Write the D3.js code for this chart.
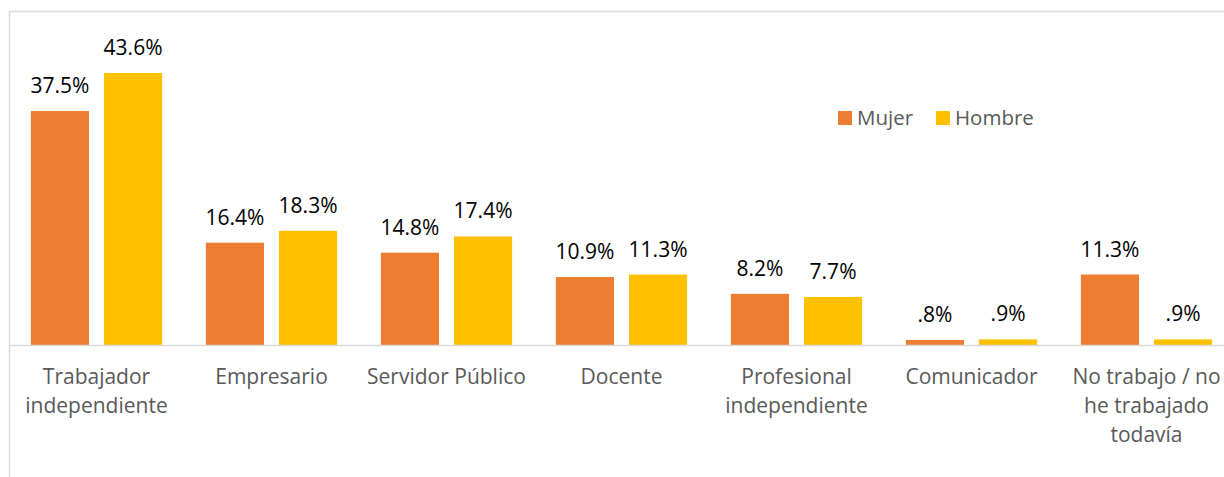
<!DOCTYPE html>
<html lang="es">
<head>
  <meta charset="UTF-8" />
  <title>Ocupación por sexo</title>
  <script src="https://d3js.org/d3.v7.min.js"></script>
  <style>
    body { margin: 0; background: #fff; }
    svg { display: block; }
    .val { font-family: 'Open Sans', sans-serif; font-size: 21px; fill: #000; }
    .cat { font-family: 'Open Sans', sans-serif; font-size: 21px; fill: #595959; }
    .leg { font-family: 'Open Sans', sans-serif; font-size: 20.5px; fill: #595959; }
  </style>
</head>
<body>
  <div id="chart"></div>
  <script>
    const categories = [
      ["Trabajador", "independiente"],
      ["Empresario"],
      ["Servidor Público"],
      ["Docente"],
      ["Profesional", "independiente"],
      ["Comunicador"],
      ["No trabajo / no", "he trabajado", "todavía"]
    ];
    const mujer = [37.5, 16.4, 14.8, 10.9, 8.2, 0.8, 11.3];
    const hombre = [43.6, 18.3, 17.4, 11.3, 7.7, 0.9, 0.9];
    const seriesNames = ["Mujer", "Hombre"];
    const colors = ["#ed7d31", "#ffc000"];

    const W = 1224, H = 477;
    const plot = { left: 9, right: 1234, baseline: 345 };

    const svg = d3.select("#chart").append("svg")
      .attr("width", W).attr("height", H);

    // chart frame (cut off on the right and bottom)
    svg.append("rect")
      .attr("x", 9.5).attr("y", 11.5)
      .attr("width", 1300).attr("height", 600)
      .attr("fill", "none").attr("stroke", "#d9d9d9").attr("stroke-width", 1.5);

    const x0 = d3.scaleBand()
      .domain(d3.range(categories.length))
      .range([plot.left, plot.right])
      .paddingInner(0.25).paddingOuter(0.125);

    const x1 = d3.scaleBand()
      .domain(seriesNames)
      .range([0, x0.bandwidth()])
      .paddingInner(0.205);

    const y = d3.scaleLinear().domain([0, 43.6]).range([plot.baseline, 73]);

    const rows = categories.map((c, i) => ({
      i, values: [
        { key: "Mujer", v: mujer[i], color: colors[0] },
        { key: "Hombre", v: hombre[i], color: colors[1] }
      ]
    }));

    const groups = svg.selectAll("g.grp").data(rows).join("g")
      .attr("class", "grp")
      .attr("transform", d => `translate(${x0(d.i)},0)`);

    groups.selectAll("rect").data(d => d.values).join("rect")
      .attr("x", d => x1(d.key))
      .attr("y", d => y(d.v))
      .attr("width", x1.bandwidth())
      .attr("height", d => y(0) - y(d.v))
      .attr("fill", d => d.color);

    const fmt = v => (v < 1 ? d3.format(".1f")(v).replace(/^0/, "") : d3.format(".1f")(v)) + "%";

    groups.selectAll("text.val").data(d => d.values).join("text")
      .attr("class", "val")
      .attr("x", d => x1(d.key) + x1.bandwidth() / 2)
      .attr("y", d => y(d.v) - 18)
      .attr("text-anchor", "middle")
      .text(d => fmt(d.v));

    // baseline axis
    svg.append("line")
      .attr("x1", plot.left).attr("x2", W)
      .attr("y1", plot.baseline + 0.5).attr("y2", plot.baseline + 0.5)
      .attr("stroke", "#d9d9d9").attr("stroke-width", 1.5);

    // category labels
    const catText = svg.selectAll("text.cat").data(categories).join("text")
      .attr("class", "cat")
      .attr("text-anchor", "middle")
      .attr("x", (d, i) => x0(i) + x0.bandwidth() / 2)
      .attr("y", 384);
    catText.selectAll("tspan").data(d => d).join("tspan")
      .attr("x", function () { return this.parentNode.getAttribute("x"); })
      .attr("dy", (d, i) => i === 0 ? 0 : 29)
      .text(d => d);

    // legend
    const leg = svg.append("g").attr("transform", "translate(838,111)");
    const items = leg.selectAll("g").data(seriesNames).join("g")
      .attr("transform", (d, i) => `translate(${i * 98},0)`);
    items.append("rect").attr("width", 14).attr("height", 14)
      .attr("fill", (d, i) => colors[i]);
    items.append("text").attr("class", "leg")
      .attr("x", 19).attr("y", 14).text(d => d);
  </script>
</body>
</html>
